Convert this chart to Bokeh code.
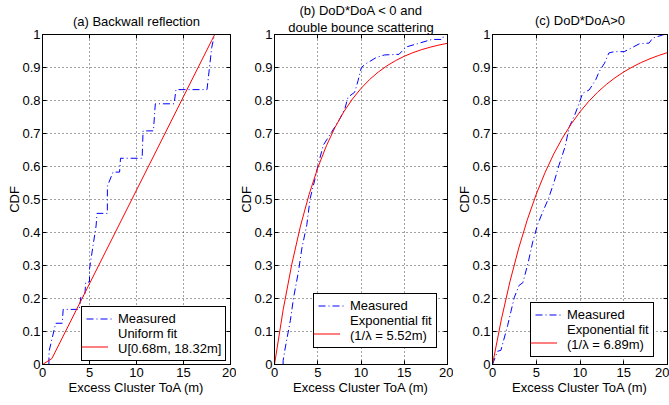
from bokeh.plotting import figure
from bokeh.layouts import row
from bokeh.models import (Range1d, FixedTicker, LinearAxis, NumeralTickFormatter,
                          Legend, LegendItem, Title, CustomJSTickFormatter)
from bokeh.embed import file_html
from bokeh.resources import INLINE

FONT = "Liberation Sans"

# ---------------- data ----------------
x_ticks = [0, 5, 10, 15, 20]
y_ticks = [0, 0.1, 0.2, 0.3, 0.4, 0.5, 0.6, 0.7, 0.8, 0.9, 1.0]

titles_a = ["(a) Backwall reflection"]
titles_b = ["(b) DoD*DoA < 0 and", "double bounce scattering"]
titles_c = ["(c) DoD*DoA>0"]

# (a) Backwall reflection
a_meas_x = [0.68, 0.7, 1.4, 2.1, 2.2, 3.9, 4.1, 4.5, 4.6, 5.0, 5.0, 5.7, 5.8, 6.9,
            6.9, 7.5, 8.2, 8.3, 10.6, 10.7, 11.8, 12.0, 14.0, 14.2, 17.5, 18.0, 18.3]
a_meas_y = [0.0, 0.04, 0.125, 0.125, 0.167, 0.167, 0.208, 0.208, 0.25, 0.25, 0.29, 0.42,
            0.458, 0.458, 0.54, 0.583, 0.583, 0.625, 0.625, 0.708, 0.708, 0.79, 0.79,
            0.833, 0.833, 0.96, 1.0]
a_fit_x = [0, 1, 18, 18.32, 20]
a_fit_y = [0, 0.018, 0.982, 1.0, 1.0]

# (b) DoD*DoA < 0 and double bounce scattering
b_meas_x = [0.99, 1.0, 1.26, 1.83, 2.21, 2.78, 3.17, 3.74, 4.12, 4.69, 5.07, 5.65, 6.98,
            7.56, 8.13, 8.5, 9.27, 9.66, 10.04, 10.6, 11.75, 12.7, 14.4, 15.2, 16.5,
            18.2, 19.4, 19.6, 20.0]
b_meas_y = [0.0, 0.012, 0.053, 0.133, 0.203, 0.283, 0.353, 0.424, 0.503, 0.563, 0.608,
            0.665, 0.72, 0.745, 0.775, 0.81, 0.825, 0.86, 0.9, 0.912, 0.93, 0.938, 0.94,
            0.962, 0.972, 0.985, 0.985, 1.0, 1.0]
fit_x = [0, 1, 2, 3, 4, 5, 6, 7, 8, 9, 10, 11, 12, 13, 14, 15, 16, 17, 18, 19, 20]
b_fit_y = [0.0, 0.1657, 0.3039, 0.4193, 0.5155, 0.5958, 0.6628, 0.7187, 0.7653, 0.8042,
           0.8366, 0.8637, 0.8863, 0.9051, 0.9208, 0.9340, 0.9449, 0.9540, 0.9616,
           0.9680, 0.9733]

# (c) DoD*DoA > 0
c_meas_x = [0.0, 0.57, 0.96, 1.72, 2.1, 2.5, 3.05, 3.47, 4.07, 4.6, 5.17, 5.75, 6.4,
            7.05, 7.6, 8.3, 8.77, 9.34, 9.91, 10.3, 11.05, 11.8, 12.2, 12.8, 13.3, 13.9,
            15.05, 16.8, 17.9, 18.3, 19.6, 20.0]
c_meas_y = [0.0, 0.04, 0.043, 0.117, 0.16, 0.204, 0.24, 0.248, 0.308, 0.372, 0.425,
            0.463, 0.503, 0.554, 0.604, 0.66, 0.72, 0.752, 0.792, 0.822, 0.832, 0.863,
            0.888, 0.913, 0.944, 0.948, 0.948, 0.972, 0.974, 0.989, 1.0, 1.0]
c_fit_y = [0.0, 0.1351, 0.2519, 0.3530, 0.4404, 0.5160, 0.5814, 0.6380, 0.6869, 0.7292,
           0.7657, 0.7974, 0.8248, 0.8484, 0.8689, 0.8866, 0.9019, 0.9152, 0.9266,
           0.9366, 0.9451]

legend_a = ["Measured", "Uniform fit\nU[0.68m, 18.32m]"]
legend_b = ["Measured", "Exponential fit\n(1/\u03bb = 5.52m)"]
legend_c = ["Measured", "Exponential fit\n(1/\u03bb = 6.89m)"]

PAD = 4
LH = 1.15


def make_panel(width, bl, br, titles, title_standoffs, mx, my, fx, fy, labels, leg_loc):
    p = figure(width=width, height=405, output_backend="svg", toolbar_location=None,
               x_range=Range1d(0, 20), y_range=Range1d(0, 1),
               min_border_left=bl, min_border_right=br,
               min_border_top=33, min_border_bottom=41)
    p.background_fill_color = "white"
    p.border_fill_color = "white"
    p.outline_line_color = "black"
    p.outline_line_alpha = 1
    p.outline_line_width = 1

    for ax in (p.xaxis[0], p.yaxis[0]):
        ax.major_tick_in = 4
        ax.major_tick_out = 0
        ax.minor_tick_line_color = None
        ax.axis_line_color = "black"
        ax.major_tick_line_color = "black"
        ax.major_label_text_font = FONT
        ax.major_label_text_font_size = "13px"
        ax.major_label_text_color = "black"
        ax.axis_label_text_font = FONT
        ax.axis_label_text_font_size = "13px"
        ax.axis_label_text_font_style = "normal"
        ax.axis_label_text_color = "black"
        ax.major_label_standoff = 3
        ax.axis_label_standoff = 0
    p.xaxis.ticker = FixedTicker(ticks=x_ticks)
    p.yaxis.ticker = FixedTicker(ticks=y_ticks)
    p.yaxis.formatter = NumeralTickFormatter(format="0.[0]")
    p.xaxis.axis_label = "Excess Cluster ToA (m)"
    p.yaxis.axis_label = "CDF"
    p.yaxis.major_label_standoff = 2
    p.yaxis.axis_label_standoff = -3

    for side, tk in (("right", y_ticks), ("above", x_ticks)):
        ax = LinearAxis(ticker=FixedTicker(ticks=tk), major_tick_in=4, major_tick_out=0,
                        minor_tick_line_color=None, major_label_text_font_size="1px",
                        formatter=CustomJSTickFormatter(code="return ''"),
                        major_label_standoff=0, axis_line_color="black",
                        major_tick_line_color="black")
        p.add_layout(ax, side)

    p.xgrid.ticker = FixedTicker(ticks=x_ticks[1:-1])
    p.ygrid.ticker = FixedTicker(ticks=y_ticks[1:-1])
    for g in (p.xgrid[0], p.ygrid[0]):
        g.grid_line_color = "#444444"
        g.grid_line_dash = "1 3"
        g.grid_line_width = 1

    r1 = p.line(mx, my, line_color="#0000ff", line_width=1, line_dash="7 3 1 3")
    r2 = p.line(fx, fy, line_color="#ff0000", line_width=1)
    r_dummy = p.line(x=[], y=[], line_alpha=0)

    common = dict(margin=0, padding=PAD, glyph_width=27, label_standoff=5,
                  label_text_font=FONT, label_text_font_size="13px",
                  label_text_color="black", label_text_line_height=LH, label_height=10)
    leg = Legend(items=[LegendItem(label=labels[0], renderers=[r1]),
                        LegendItem(label=labels[1], renderers=[r_dummy])],
                 location=leg_loc, glyph_height=15, spacing=-2,
                 border_line_color="black", border_line_width=1, border_line_alpha=1,
                 background_fill_color="white", background_fill_alpha=1, **common)
    p.add_layout(leg)
    line_h = 13 * LH
    item2_center = leg_loc[1] + PAD + line_h
    gh = 17
    leg2 = Legend(items=[LegendItem(label=" ", renderers=[r2])],
                  location=(leg_loc[0], item2_center - PAD - gh / 2),
                  glyph_height=gh, spacing=0, border_line_color=None,
                  background_fill_alpha=0, **common)
    p.add_layout(leg2)

    for t, s in zip(reversed(titles), title_standoffs):
        p.add_layout(Title(text=t, align="center", text_font=FONT, text_font_size="13px",
                           text_font_style="normal", text_color="black", standoff=s),
                     "above")
    return p


pa = make_panel(236, 42, 6, titles_a, [12], a_meas_x, a_meas_y, a_fit_x, a_fit_y,
                legend_a, (39, 3))
pb = make_panel(217, 38, 6, titles_b, [0, 0], b_meas_x, b_meas_y, fit_x, b_fit_y,
                legend_b, (39, 16))
pc = make_panel(216, 39, 2, titles_c, [14], c_meas_x, c_meas_y, fit_x, c_fit_y,
                legend_c, (38, 7))

layout = row(pa, pb, pc)
open("out.html", "w").write(file_html(layout, INLINE))
